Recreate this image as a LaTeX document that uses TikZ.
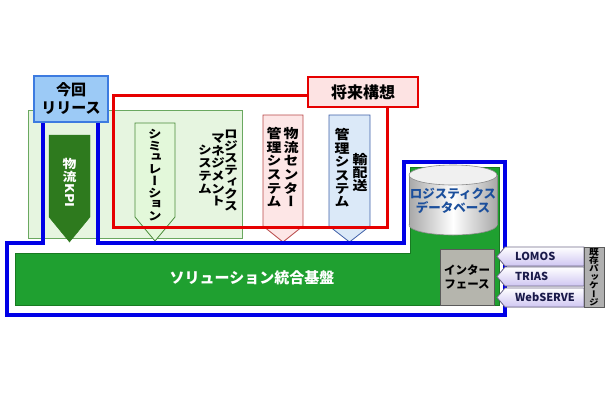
\documentclass[tikz,border=0pt]{standalone}
\usepackage{fontspec}
\newfontfamily\jp{Noto Sans CJK JP}
\newfontfamily\jpv[RawFeature=+vert,FakeStretch=1.15]{Noto Sans CJK JP}
\usetikzlibrary{positioning}

\definecolor{nowblue}{HTML}{9CCAF6}
\definecolor{nowedge}{HTML}{3D7BE0}
\definecolor{futurepink}{HTML}{FDE3E3}
\definecolor{linered}{HTML}{E60000}
\definecolor{lineblue}{HTML}{0000E6}
\definecolor{panelgreen}{HTML}{E6F5E0}
\definecolor{paneledge}{HTML}{6AA860}
\definecolor{kpigreen}{HTML}{2E7A1E}
\definecolor{simfill}{HTML}{E3F8DA}
\definecolor{simedge}{HTML}{4A8A3A}
\definecolor{ctrfill}{HTML}{FDE6E6}
\definecolor{ctredge}{HTML}{B84848}
\definecolor{dlvfill}{HTML}{DBE9F8}
\definecolor{dlvedge}{HTML}{3E5FA8}
\definecolor{bargreen}{HTML}{1FA030}
\definecolor{baredge}{HTML}{197A22}
\definecolor{cylgray}{HTML}{A8A8A8}
\definecolor{cyledge}{HTML}{8A8A8A}
\definecolor{dbblue}{HTML}{1B4F9C}
\definecolor{ifgray}{HTML}{B5B5AD}
\definecolor{ifedge}{HTML}{5A5A5A}
\definecolor{pkgpurple}{HTML}{CFC6F2}
\definecolor{pkgedge}{HTML}{6F6A8A}
\definecolor{pkgtext}{HTML}{1A1A4A}
\definecolor{legacygray}{HTML}{B0B0B0}

\begin{document}
\begin{tikzpicture}[x=1pt,y=-1pt,
    panel/.style={fill=panelgreen,draw=paneledge,line width=0.8pt},
    kpiarrow/.style={fill=kpigreen,draw=kpigreen},
    simarrow/.style={fill=simfill,draw=simedge,line width=0.8pt},
    ctrarrow/.style={fill=ctrfill,draw=ctredge,line width=0.8pt},
    dlvarrow/.style={fill=dlvfill,draw=dlvedge,line width=0.8pt},
    redframe/.style={draw=linered,line width=3pt},
    blueframe/.style={draw=lineblue,line width=3.5pt},
    nowbox/.style={rectangle,fill=nowblue,draw=nowedge,line width=2pt,minimum width=74pt,minimum height=46pt,align=center,font=\jp\bfseries\fontsize{15}{18}\selectfont},
    futurebox/.style={rectangle,fill=futurepink,draw=linered,line width=2pt,minimum width=110pt,minimum height=30pt,font=\jp\bfseries\fontsize{16}{18}\selectfont},
    vtext/.style={align=center,inner sep=0pt,font=\jpv\bfseries\fontsize{12}{12}\selectfont},
    ifbox/.style={rectangle,fill=ifgray,draw=ifedge,line width=0.8pt,minimum width=54pt,minimum height=56pt,align=center,font=\jp\bfseries\fontsize{11.5}{14}\selectfont},
    pkg/.style={top color=white,bottom color=pkgpurple,draw=pkgedge,line width=0.8pt},
    pkgname/.style={anchor=west,inner sep=0pt,text=pkgtext,font=\jp\bfseries\fontsize{11}{12}\selectfont},
    legacy/.style={rectangle,fill=legacygray,draw=ifedge,line width=0.6pt,minimum width=20pt,minimum height=60pt,inner sep=0pt,align=center,font=\jpv\bfseries\fontsize{8.4}{8.4}\selectfont}
  ]
    \useasboundingbox (0,0) rectangle (610,400);

    % Light green panel
    \filldraw[panel] (28,110) rectangle (242,238);

    % Down arrows
    \filldraw[kpiarrow] (49,135) -- (90,135) -- (90,217) -- (69.5,242) -- (49,217) -- cycle;
    \filldraw[simarrow] (135,123) -- (175,123) -- (175,217) -- (155,241) -- (135,217) -- cycle;
    \filldraw[ctrarrow] (263,115) -- (303,115) -- (303,226) -- (283,242) -- (263,226) -- cycle;
    \filldraw[dlvarrow] (329,115) -- (370,115) -- (370,226) -- (349.5,242) -- (329,226) -- cycle;

    % Red frame and its label
    \draw[redframe] (308,95) -- (113,95) -- (113,227) -- (387,227) -- (387,107);
    \node[futurebox] (future) at (363,92) {将来構想};

    % Green base bar
    \filldraw[fill=bargreen,draw=baredge,line width=0.8pt]
      (15,253) -- (410,253) -- (410,167) -- (499,167) -- (499,305) -- (15,305) -- cycle;
    \node[text=white,font=\jp\bfseries\fontsize{15}{18}\selectfont] (base) at (252,278) {ソリューション統合基盤};

    % Database cylinder
    \shade[left color=cylgray,right color=cylgray,middle color=white] (453,225) ellipse [x radius=44,y radius=10];
    \draw[cyledge,line width=0.6pt] (453,225) ellipse [x radius=44,y radius=10];
    \shade[left color=cylgray,right color=cylgray,middle color=white] (409,175) rectangle (497,225);
    \draw[cyledge,line width=0.6pt] (409,175) -- (409,225) (497,175) -- (497,225);
    \filldraw[fill=gray!12,draw=cyledge,line width=0.6pt] (453,175) ellipse [x radius=44,y radius=10];
    \node[align=center,text=dbblue,font=\jp\bfseries\fontsize{12.5}{14}\selectfont] (db) at (453,201) {ロジスティクス\\データベース};

    % Interface
    \node[ifbox] (ifc) at (467,277) {インター\\フェース};

    % Blue frame
    \draw[blueframe] (43,122) -- (43,243) -- (7,243) -- (7,315) -- (505,315) -- (505,162)
      -- (404,162) -- (404,243) -- (98,243) -- (98,122);
    \node[nowbox] (now) at (71,99) {今回\\リリース};

    % Existing packages
    \filldraw[pkg] (505,247) -- (584,247) -- (584,266) -- (505,266) -- (497,256.5) -- cycle;
    \filldraw[pkg] (505,267) -- (584,267) -- (584,286) -- (505,286) -- (497,276.5) -- cycle;
    \filldraw[pkg] (505,288) -- (584,288) -- (584,307) -- (505,307) -- (497,297.5) -- cycle;
    \node[pkgname] (lomos) at (515,256.5) {LOMOS};
    \node[pkgname] (trias) at (515,276.5) {TRIAS};
    \node[pkgname] (webserve) at (515,297.5) {WebSERVE};
    \node[legacy] (legacypkg) at (594,277) {既\\存\\パ\\ッ\\ケ\\ー\\ジ};

    % Vertical labels
    \node[vtext,text=white,font=\jpv\bfseries\fontsize{12}{13}\selectfont] (kpi) at (69.5,183)
      {物\\流\\\rotatebox[origin=c]{-90}{KPI}};
    \node[vtext,font=\jpv\bfseries\fontsize{11.75}{11.75}\selectfont] (sim) at (155,175) {シ\\ミ\\ュ\\レ\\ー\\シ\\ョ\\ン};
    \node[vtext] (lms1) at (231,170) {ロ\\ジ\\ス\\テ\\ィ\\ク\\ス};
    \node[vtext,font=\jpv\bfseries\fontsize{12}{12.7}\selectfont] (lms2) at (218,170) {マ\\ネ\\ジ\\メ\\ン\\ト};
    \node[vtext,font=\jpv\bfseries\fontsize{12}{13}\selectfont] (lms3) at (205,169) {シ\\ス\\テ\\ム};
    \node[vtext,anchor=north,font=\jpv\bfseries\fontsize{13}{13.7}\selectfont] (ctr1) at (291,127) {物\\流\\セ\\ン\\タ\\ー};
    \node[vtext,anchor=north,font=\jpv\bfseries\fontsize{13}{13.7}\selectfont] (ctr2) at (274,127) {管\\理\\シ\\ス\\テ\\ム};
    \node[vtext,font=\jpv\bfseries\fontsize{13}{13.4}\selectfont] (dlv1) at (342,168) {管\\理\\シ\\ス\\テ\\ム};
    \node[vtext,font=\jpv\bfseries\fontsize{13}{13}\selectfont] (dlv2) at (360,172) {輸\\配\\送};

  \end{tikzpicture}
\end{document}
